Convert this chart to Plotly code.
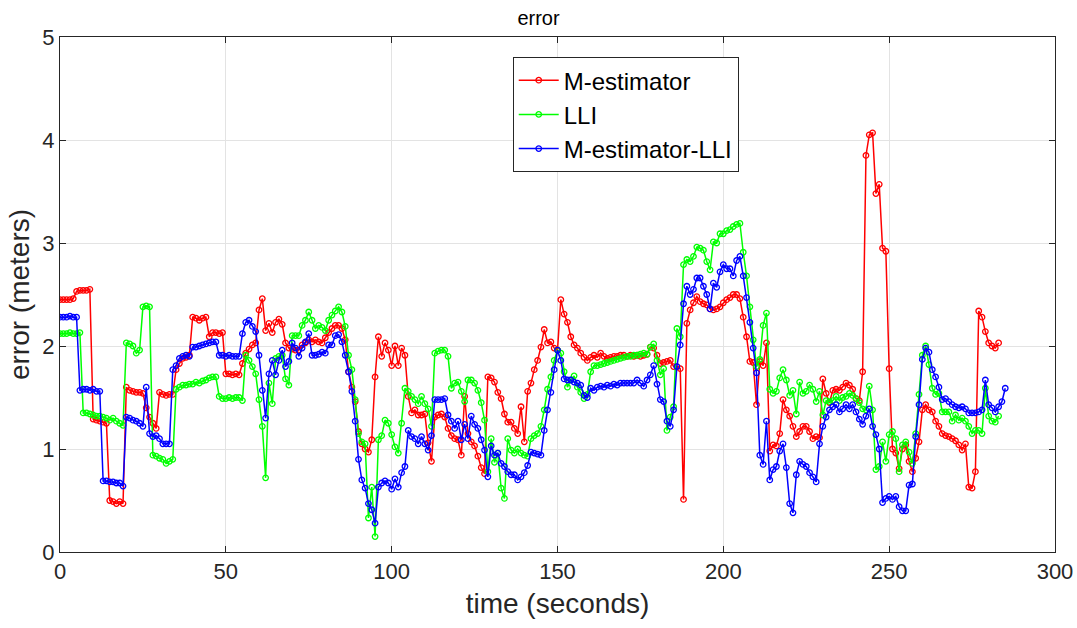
import plotly.graph_objects as go

# Positioning error per second for three estimators
m_est = [
    2.45, 2.45, 2.45, 2.45, 2.46, 2.53, 2.54, 2.54, 2.54, 2.55,
    1.29, 1.28, 1.27, 1.26, 1.25, 0.50, 0.49, 0.47, 0.49, 0.47,
    1.60, 1.57, 1.56, 1.55, 1.55, 1.54, 1.40, 1.31, 1.25, 1.20,
    1.55, 1.53, 1.52, 1.53, 1.53, 1.77, 1.83, 1.88, 1.89, 1.91,
    2.28, 2.27, 2.25, 2.27, 2.28, 2.09, 2.13, 2.13, 2.12, 2.13,
    1.73, 1.73, 1.72, 1.73, 1.72, 1.83, 1.93, 1.97, 2.01, 2.03,
    2.35, 2.46, 2.15, 2.22, 2.13, 2.23, 2.26, 2.21, 2.03, 1.98,
    1.97, 1.96, 1.96, 2.01, 2.03, 2.06, 2.04, 2.06, 2.04, 2.03,
    2.08, 2.13, 2.17, 2.20, 2.20, 2.17, 2.06, 1.75, 1.60, 1.46,
    1.17, 1.05, 1.00, 0.97, 1.09, 1.70, 2.09, 1.90, 2.03, 1.96,
    1.81, 2.00, 1.81, 1.98, 1.91, 1.51, 1.35, 1.38, 1.33, 1.33,
    1.34, 1.06, 0.88, 1.31, 1.33, 1.34, 1.31, 1.20, 1.13, 1.10,
    1.09, 0.94, 1.51, 1.15, 1.07, 1.03, 0.93, 0.82, 0.76, 1.70,
    1.69, 1.65, 1.55, 1.49, 1.34, 1.26, 1.26, 1.20, 1.15, 1.41,
    1.07, 1.56, 1.64, 1.77, 1.86, 1.99, 2.16, 2.03, 2.04, 1.98,
    1.96, 2.45, 2.31, 2.23, 2.09, 2.01, 1.98, 1.93, 1.89, 1.86,
    1.89, 1.91, 1.89, 1.93, 1.90, 1.88, 1.89, 1.90, 1.90, 1.91,
    1.91, 1.90, 1.91, 1.90, 1.91, 1.90, 1.91, 1.92, 1.99, 1.98,
    1.91, 1.83, 1.84, 1.85, 1.86, 1.80, 1.80, 1.78, 0.51, 2.22,
    2.35, 2.42, 2.48, 2.43, 2.41, 2.40, 2.36, 2.35, 2.36, 2.38,
    2.42, 2.45, 2.47, 2.50, 2.50, 2.46, 2.28, 2.09, 1.85, 1.84,
    1.43, 1.85, 1.81, 2.03, 0.98, 1.04, 1.03, 1.15, 1.48, 1.38,
    1.32, 1.22, 1.12, 1.17, 1.22, 1.22, 1.17, 1.10, 1.12, 1.11,
    1.68, 1.54, 1.45, 1.57, 1.58, 1.57, 1.60, 1.64, 1.62, 1.58,
    1.49, 1.47, 1.75, 3.85, 4.05, 4.07, 3.48, 3.57, 2.95, 2.92,
    1.78, 1.00, 0.96, 0.81, 1.00, 1.04, 0.88, 0.78, 0.91, 1.07,
    1.38, 1.43, 1.38, 1.36, 1.27, 1.22, 1.15, 1.13, 1.12, 1.10,
    1.08, 1.04, 0.99, 1.05, 0.63, 0.62, 0.78, 2.34, 2.28, 2.14,
    2.03, 2.00, 1.98, 2.03,
]

lli = [
    2.12, 2.12, 2.12, 2.13, 2.12, 2.12, 2.13, 1.35, 1.35, 1.34,
    1.33, 1.32, 1.32, 1.31, 1.30, 1.28, 1.30, 1.27, 1.25, 1.23,
    2.03, 2.02, 2.00, 1.93, 1.96, 2.38, 2.39, 2.38, 0.94, 0.93,
    0.91, 0.90, 0.86, 0.88, 0.90, 1.58, 1.60, 1.62, 1.62, 1.63,
    1.63, 1.65, 1.64, 1.66, 1.67, 1.69, 1.70, 1.70, 1.51, 1.49,
    1.49, 1.50, 1.49, 1.50, 1.50, 1.47, 1.91, 1.86, 1.80, 1.73,
    1.48, 1.22, 0.72, 1.64, 1.44, 1.88, 1.90, 1.91, 1.68, 1.62,
    2.10, 2.10, 2.10, 2.20, 2.25, 2.33, 2.25, 2.17, 2.20, 2.18,
    2.15, 2.25, 2.30, 2.34, 2.38, 2.33, 2.19, 1.91, 1.77, 1.48,
    1.15, 1.07, 1.05, 0.33, 0.63, 0.15, 1.09, 1.13, 1.28, 1.25,
    1.14, 1.02, 0.96, 1.25, 1.59, 1.56, 1.51, 1.48, 1.44, 1.51,
    1.44, 1.39, 1.22, 1.93, 1.95, 1.96, 1.96, 1.90, 1.59, 1.64,
    1.65, 1.56, 1.46, 1.67, 1.67, 1.64, 1.57, 1.45, 1.28, 0.78,
    1.10, 0.87, 0.96, 0.62, 0.52, 1.10, 0.99, 0.96, 1.00, 0.96,
    0.94, 0.93, 1.10, 1.13, 1.15, 1.22, 1.38, 1.58, 1.70, 1.86,
    1.96, 1.93, 1.75, 1.60, 1.67, 1.71, 1.60, 1.55, 1.49, 1.53,
    1.75, 1.81, 1.81, 1.82, 1.83, 1.84, 1.85, 1.86, 1.87, 1.88,
    1.89, 1.90, 1.90, 1.91, 1.91, 1.92, 1.93, 1.92, 1.99, 2.02,
    1.86, 1.72, 1.78, 1.18, 1.31, 1.41, 2.17, 2.09, 2.79, 2.84,
    2.82, 2.87, 2.96, 2.95, 2.93, 2.82, 2.74, 3.01, 3.00, 3.09,
    3.09, 3.12, 3.13, 3.16, 3.18, 3.19, 2.91, 2.68, 2.38, 2.06,
    1.80, 1.87, 2.20, 2.32, 1.58, 1.54, 1.56, 1.69, 1.77, 1.67,
    1.52, 1.57, 1.34, 1.65, 1.54, 1.56, 1.62, 1.58, 1.46, 1.56,
    1.33, 1.47, 1.46, 1.47, 1.51, 1.47, 1.50, 1.51, 1.54, 1.52,
    1.49, 1.45, 1.39, 1.38, 1.61, 1.38, 0.80, 0.83, 1.07, 0.88,
    1.14, 1.17, 1.10, 0.78, 1.04, 1.07, 0.97, 0.86, 1.15, 1.53,
    1.91, 2.00, 1.82, 1.59, 1.53, 1.54, 1.36, 1.36, 1.36, 1.27,
    1.33, 1.28, 1.30, 1.27, 1.22, 1.15, 1.18, 1.18, 1.15, 1.59,
    1.32, 1.27, 1.26, 1.32,
]

m_est_lli = [
    2.28, 2.28, 2.28, 2.29, 2.28, 2.28, 1.57, 1.58, 1.58, 1.57,
    1.58, 1.56, 1.56, 0.69, 0.69, 0.68, 0.68, 0.67, 0.67, 0.64,
    1.31, 1.30, 1.28, 1.27, 1.25, 1.22, 1.60, 1.15, 1.12, 1.13,
    1.10, 1.05, 1.05, 1.05, 1.77, 1.81, 1.88, 1.90, 1.91, 1.90,
    1.99, 1.99, 2.00, 2.01, 2.02, 2.03, 2.04, 2.04, 1.91, 1.91,
    1.90, 1.91, 1.90, 1.90, 1.90, 2.12, 2.23, 2.25, 2.19, 2.14,
    1.91, 1.57, 1.30, 1.73, 1.86, 1.72, 1.86, 1.96, 1.80, 1.85,
    2.03, 1.98, 1.90, 1.98, 2.04, 2.12, 1.91, 1.91, 1.92, 1.94,
    1.93, 2.01, 2.01, 2.10, 2.11, 2.04, 1.91, 1.75, 1.56, 1.27,
    0.90, 0.70, 0.62, 0.47, 0.41, 0.28, 0.63, 0.67, 0.69, 0.67,
    0.61, 0.71, 0.63, 0.77, 0.83, 1.18, 1.12, 1.10, 1.05, 1.12,
    1.05, 0.99, 1.13, 1.48, 1.48, 1.48, 1.49, 1.33, 1.27, 1.20,
    1.27, 1.09, 1.24, 1.10, 1.32, 1.24, 1.20, 1.09, 0.99, 0.73,
    1.03, 0.94, 0.96, 0.86, 0.83, 0.78, 0.75, 0.75, 0.70, 0.73,
    0.77, 0.84, 0.97, 0.96, 0.95, 0.94, 1.18, 1.38, 1.55, 1.77,
    1.96, 1.86, 1.68, 1.67, 1.67, 1.65, 1.64, 1.62, 1.52, 1.50,
    1.59, 1.57, 1.60, 1.61, 1.60, 1.62, 1.61, 1.63, 1.62, 1.64,
    1.64, 1.64, 1.64, 1.64, 1.67, 1.64, 1.61, 1.67, 1.72, 1.81,
    1.63, 1.48, 1.46, 1.27, 1.22, 1.38, 1.80, 2.01, 2.41, 2.58,
    2.50, 2.55, 2.66, 2.66, 2.58, 2.50, 2.36, 2.61, 2.57, 2.72,
    2.79, 2.75, 2.75, 2.68, 2.83, 2.87, 2.68, 2.47, 2.23, 1.98,
    1.74, 0.94, 0.85, 1.27, 0.70, 0.80, 0.83, 0.98, 1.05, 0.82,
    0.47, 0.38, 0.75, 0.88, 0.85, 0.83, 0.77, 0.73, 0.68, 1.05,
    1.22, 1.31, 1.38, 1.41, 1.43, 1.36, 1.39, 1.43, 1.39, 1.43,
    1.36, 1.29, 1.24, 1.32, 1.39, 1.22, 1.14, 1.00, 0.48, 0.52,
    0.54, 0.51, 0.54, 0.44, 0.40, 0.40, 0.65, 0.66, 1.12, 1.43,
    1.87, 1.98, 1.94, 1.77, 1.70, 1.60, 1.48, 1.49, 1.46, 1.43,
    1.41, 1.40, 1.41, 1.39, 1.35, 1.35, 1.35, 1.36, 1.38, 1.67,
    1.43, 1.40, 1.36, 1.41, 1.46, 1.59,
]

series = [
    ("M-estimator", m_est, "#ff0000"),
    ("LLI", lli, "#00ff00"),
    ("M-estimator-LLI", m_est_lli, "#0000ff"),
]

FONT = "Liberation Sans, Arial, sans-serif"

fig = go.Figure()
for name, vals, color in series:
    fig.add_trace(go.Scatter(
        x=list(range(len(vals))), y=vals, name=name, mode="lines+markers",
        line=dict(color=color, width=1.5),
        marker=dict(symbol="circle-open", size=5.5, color=color, line=dict(width=1.3)),
    ))

axis_common = dict(
    showgrid=True, gridcolor="#e3e3e3", gridwidth=1,
    showline=True, linecolor="#262626", linewidth=1, mirror="ticks",
    ticks="inside", ticklen=6, tickcolor="#262626",
    tickfont=dict(family=FONT, size=22, color="#262626"),
    zeroline=False, automargin=False,
)

fig.update_layout(
    width=1077, height=628,
    margin=dict(l=60, r=22, t=37, b=76, autoexpand=False),
    paper_bgcolor="white", plot_bgcolor="white",
    title=dict(text="error", x=0.5, xanchor="center", y=0.972, yanchor="middle",
               font=dict(family=FONT, size=20, color="#000000")),
    xaxis=dict(range=[0, 300], tickvals=[0, 50, 100, 150, 200, 250, 300],
               title=dict(text="time (seconds)", font=dict(family=FONT, size=28, color="#262626"), standoff=9),
               **axis_common),
    yaxis=dict(range=[0, 5], tickvals=[0, 1, 2, 3, 4, 5],
               title=dict(text="error (meters)", font=dict(family=FONT, size=28, color="#262626"), standoff=4),
               **axis_common),
    legend=dict(x=0.455, y=0.961, xanchor="left", yanchor="top",
                bgcolor="white", bordercolor="#262626", borderwidth=1,
                font=dict(family=FONT, size=24, color="#000000"),
                tracegroupgap=0, itemwidth=40),
    showlegend=True,
)

fig.write_html("out.html")
